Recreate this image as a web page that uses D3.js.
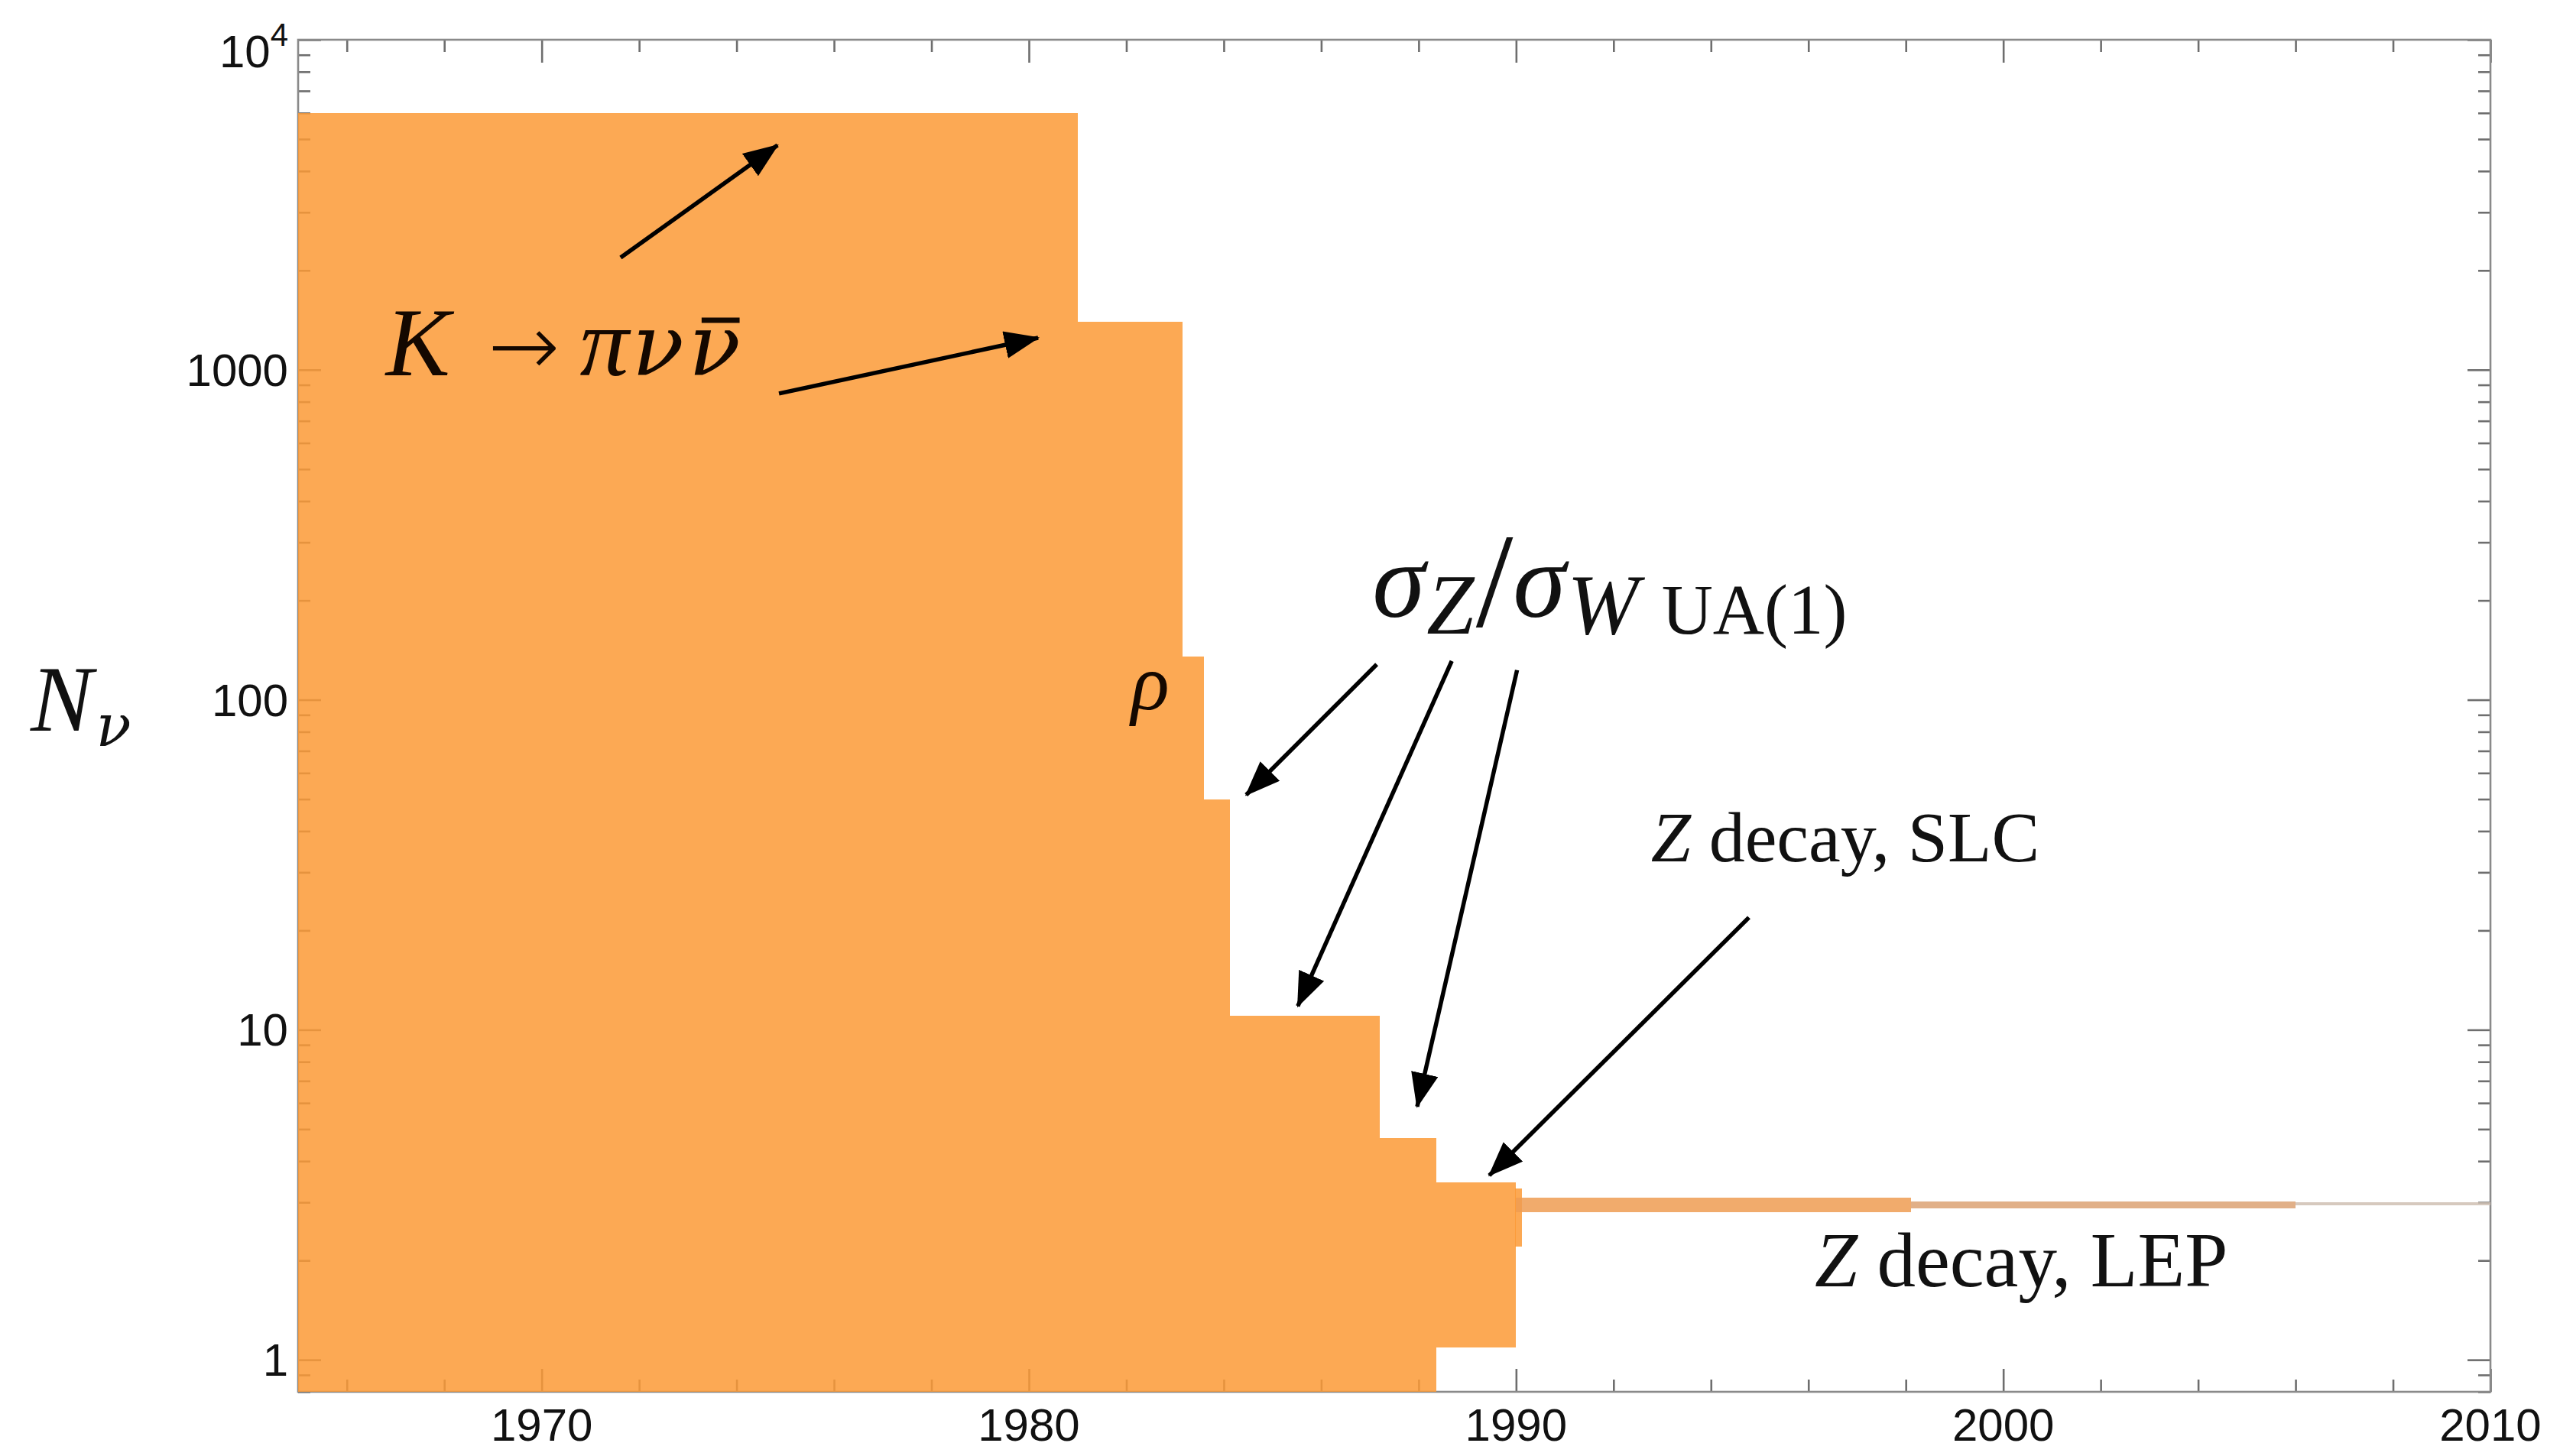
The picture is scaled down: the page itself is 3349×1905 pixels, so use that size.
<!DOCTYPE html>
<html><head><meta charset="utf-8">
<script src="https://cdn.jsdelivr.net/npm/d3@7"></script>
<style>
body{margin:0;background:#fff;}
svg text{font-family:"Liberation Serif","Times New Roman",serif;}
</style>
</head><body>
<svg id="chart" width="3349" height="1905"></svg>
<script>
// ---------------- data ----------------
// step segments of the excluded / allowed region (years, N_nu)
const segStart = [1965, 1981, 1983.15, 1983.6, 1984.12, 1987.2, 1988.37, 1989.98, 1990, 1998.1, 2006];
const segEnd   = [1981, 1983.15, 1983.6, 1984.12, 1987.2, 1988.37, 1990, 1990.12, 1998.1, 2006, 2010];
const segLow   = [0.8, 0.8, 0.8, 0.8, 0.8, 0.8, 1.09, 2.2, 2.8, 2.87, 2.94];
const segHigh  = [6000, 1400, 135, 50, 11, 4.7, 3.44, 3.3, 3.1, 3.02, 3.0];

const xTickValues = [1970, 1980, 1990, 2000, 2010];
const xTickLabels = ["1970", "1980", "1990", "2000", "2010"];
const yTickValues = [1, 10, 100, 1000, 10000];
const yTickLabels = ["1", "10", "100", "1000", "10^4"];

// annotations (data coordinates)
const arrowTailYear = [1971.62, 1974.87, 1987.14, 1988.68, 1990.02, 1994.78];
const arrowTailVal  = [2188, 847, 128, 131, 123, 21.9];
const arrowHeadYear = [1974.84, 1980.19, 1984.46, 1985.52, 1987.97, 1989.45];
const arrowHeadVal  = [4789, 1250, 51.5, 11.8, 5.85, 3.62];

// ---------------- layout / style ----------------
const pL = 390, pR = 3258, pT = 52, pB = 1821;
const segColors = ["#fb9a36","#fb9a36","#fb9a36","#fb9a36","#fb9a36","#fb9a36","#fb9a36","#fb9a36","#ee9c52","#dca273","#cfc0b3"];
const fillOpacity = 0.85;
const serif = '"Liberation Serif","Times New Roman",serif';
const mathNu = '"DejaVu Serif",serif';

const svg = d3.select("#chart");
const x = d3.scaleLinear().domain([1965, 2010]).range([pL, pR]);
const y = d3.scaleLog().domain([0.8, 10000]).range([pB, pT]);

// minor ticks
const xMinor = d3.range(1966, 2010, 2).filter(v => v % 10 !== 0);
const yMinor = [];
[0.1, 1, 10, 100, 1000].forEach(d => { for (let k = 2; k <= 9; k++) { const v = k * d; if (v >= 0.8 && v < 10000) yMinor.push(v); } });

const tickColor = "#6e6e6e";
const gAx = svg.append("g");
function drawAxis(axisGen, transform) {
  const g = gAx.append("g").attr("transform", transform).call(axisGen);
  g.selectAll("text").remove();
  g.select(".domain").remove();
  g.selectAll("line").attr("stroke", tickColor).attr("stroke-width", 2.6);
  return g;
}
const majL = 30, minL = 16;
drawAxis(d3.axisLeft(y).tickValues(yTickValues).tickSize(-majL), `translate(${pL},0)`);
drawAxis(d3.axisLeft(y).tickValues(yMinor).tickSize(-minL), `translate(${pL},0)`);
drawAxis(d3.axisRight(y).tickValues(yTickValues).tickSize(-majL), `translate(${pR},0)`);
drawAxis(d3.axisRight(y).tickValues(yMinor).tickSize(-minL), `translate(${pR},0)`);
drawAxis(d3.axisBottom(x).tickValues(xTickValues).tickSize(-majL), `translate(0,${pB})`);
drawAxis(d3.axisBottom(x).tickValues(xMinor).tickSize(-minL), `translate(0,${pB})`);
drawAxis(d3.axisTop(x).tickValues(xTickValues).tickSize(-majL), `translate(0,${pT})`);
drawAxis(d3.axisTop(x).tickValues(xMinor).tickSize(-minL), `translate(0,${pT})`);

// frame
gAx.append("rect").attr("x", pL).attr("y", pT).attr("width", pR - pL).attr("height", pB - pT)
  .attr("fill", "none").attr("stroke", "#8a8a8a").attr("stroke-width", 2.6);

// filled steps
const segs = segStart.map((s, i) => ({x0: s, x1: segEnd[i], lo: segLow[i], hi: segHigh[i], c: segColors[i]}));
svg.append("g").selectAll("rect").data(segs).join("rect")
  .attr("x", d => x(d.x0)).attr("width", d => x(d.x1) - x(d.x0))
  .attr("y", d => y(d.hi)).attr("height", d => y(d.lo) - y(d.hi))
  .attr("fill", d => d.c).attr("fill-opacity", fillOpacity)
  .attr("shape-rendering", "crispEdges");

// tick labels
const labFont = '"Liberation Sans", Arial, sans-serif';
const gl = svg.append("g").attr("fill", "#111");
xTickValues.forEach((v, i) => {
  gl.append("text").attr("x", x(v)).attr("y", pB + 64).attr("text-anchor", "middle")
    .style("font-family", labFont).attr("font-size", 60).text(xTickLabels[i]);
});
yTickValues.forEach((v, i) => {
  const lab = yTickLabels[i];
  const t = gl.append("text").attr("x", pL - 13).attr("y", y(v) + 21).attr("text-anchor", "end")
    .style("font-family", labFont).attr("font-size", 60);
  if (lab.includes("^")) {
    const [b, e] = lab.split("^");
    t.append("tspan").text(b);
    t.append("tspan").attr("dy", -28).attr("font-size", 42).text(e);
    t.attr("y", y(v) + 36);
  } else t.text(lab);
});

// axis title N_nu
const ttl = svg.append("text").attr("x", 40).attr("y", 956).attr("fill", "#111");
ttl.append("tspan").style("font-family", serif).attr("font-style", "italic").attr("font-size", 122).text("N");
ttl.append("tspan").style("font-family", mathNu).attr("font-style", "italic").attr("dy", 20).attr("dx", 4).attr("font-size", 76).text("ν");

// arrows
const defs = svg.append("defs");
defs.append("marker").attr("id", "ah").attr("markerUnits", "userSpaceOnUse")
  .attr("viewBox", "0 0 46 36").attr("refX", 44).attr("refY", 18)
  .attr("markerWidth", 46).attr("markerHeight", 36).attr("orient", "auto")
  .append("path").attr("d", "M0,0 L46,18 L0,36 Z").attr("fill", "#000");
svg.append("g").selectAll("line").data(arrowTailYear.map((t, i) => i)).join("line")
  .attr("x1", i => x(arrowTailYear[i])).attr("y1", i => y(arrowTailVal[i]))
  .attr("x2", i => x(arrowHeadYear[i])).attr("y2", i => y(arrowHeadVal[i]))
  .attr("stroke", "#000").attr("stroke-width", 5.5).attr("marker-end", "url(#ah)");

// labels
const ga = svg.append("g").attr("fill", "#140800");
const kt = ga.append("text").attr("x", x(1966.8)).attr("y", y(962));
kt.append("tspan").style("font-family", serif).attr("font-style", "italic").attr("font-size", 126).text("K");
kt.append("tspan").style("font-family", '"DejaVu Sans",sans-serif').attr("font-size", 112).attr("font-weight", 300).attr("dx", 50).text("\u2192");
kt.append("tspan").style("font-family", serif).attr("font-style", "italic").attr("font-size", 128).attr("dx", 26).text("π");
kt.append("tspan").style("font-family", mathNu).attr("font-style", "italic").attr("font-size", 112).attr("dx", 4).text("ν");
kt.append("tspan").style("font-family", mathNu).attr("font-style", "italic").attr("font-size", 112).attr("dx", 6).text("ν");
{
  const node = kt.node();
  const n = node.getNumberOfChars();
  const r = node.getExtentOfChar(n - 1);
  const by = y(962) - 72;
  ga.append("line").attr("x1", r.x + r.width * 0.25).attr("x2", r.x + r.width * 0.98)
    .attr("y1", by).attr("y2", by).attr("stroke", "#140800").attr("stroke-width", 7);
}

ga.append("text").attr("x", x(1982.1)).attr("y", y(93.5)).attr("font-size", 104).attr("font-style", "italic").text("ρ");

const st = svg.append("text").attr("x", x(1987.05)).attr("y", y(178)).attr("fill", "#111");
st.append("tspan").attr("font-style", "italic").attr("font-size", 140).text("σ");
st.append("tspan").attr("font-style", "italic").attr("font-size", 112).attr("dy", 22).attr("dx", 2).text("Z");
st.append("tspan").attr("font-size", 175).attr("dy", -10).attr("dx", 2).text("/");
st.append("tspan").attr("font-style", "italic").attr("font-size", 140).attr("dy", -12).text("σ");
st.append("tspan").attr("font-style", "italic").attr("font-size", 112).attr("dy", 22).attr("dx", 2).text("W");
st.append("tspan").attr("font-size", 93).attr("dx", 30).text("UA(1)");

const slc = svg.append("text").attr("x", x(1992.77)).attr("y", y(32.4)).attr("font-size", 94).attr("fill", "#111");
slc.append("tspan").attr("font-style", "italic").text("Z");
slc.append("tspan").text(" decay, SLC");

const lep = svg.append("text").attr("x", x(1996.13)).attr("y", y(1.667)).attr("font-size", 101).attr("fill", "#111");
lep.append("tspan").attr("font-style", "italic").text("Z");
lep.append("tspan").text(" decay, LEP");
</script>
</body></html>
